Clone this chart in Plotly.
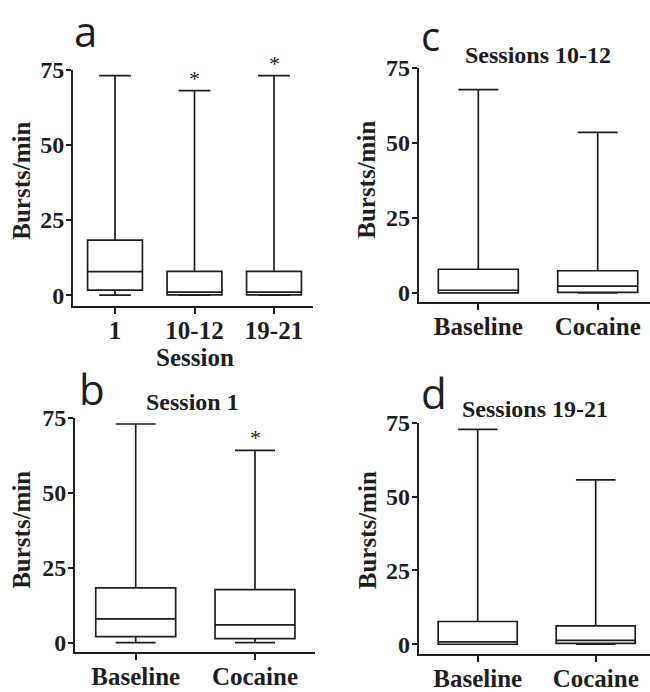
import plotly.graph_objects as go

# ---------------- data ----------------
a_cats = ["1", "10-12", "19-21"]
a_min = [0, 0, 0]
a_q1 = [1.7, 0.1, 0.1]
a_med = [7.8, 1.0, 1.0]
a_q3 = [18.3, 7.9, 7.9]
a_max = [73, 68, 73]
a_star = [False, True, True]

bcd_cats = ["Baseline", "Cocaine"]

b_min = [0, 0]
b_q1 = [2.0, 1.3]
b_med = [7.9, 5.9]
b_q3 = [18.3, 17.7]
b_max = [73, 64.2]
b_star = [False, True]

c_min = [0, 0]
c_q1 = [0, 0.2]
c_med = [0.9, 2.3]
c_q3 = [7.9, 7.4]
c_max = [67.8, 53.5]
c_star = [False, False]

d_min = [0, 0]
d_q1 = [0, 0.3]
d_med = [0.8, 1.3]
d_q3 = [7.7, 6.2]
d_max = [72.8, 55.7]
d_star = [False, False]

y_ticks = [0, 25, 50, 75]
y_title = "Bursts/min"

W, H = 650, 692
INK = "#1e1e1e"
SERIF = "Liberation Serif"
SANS = "Open Sans"

def px_x(p):
    return p / W

def px_y(p):
    return 1 - p / H

# panel geometry (pixels): x0, x1 of axis; y of 75 tick; y of 0; y of x-axis line; category centers
panels = {
    "a": dict(cats=a_cats, mn=a_min, q1=a_q1, md=a_med, q3=a_q3, mx=a_max, star=a_star,
              x0=73, x1=313, y75=58.3, y0=291.0, ybot=301.7, c0=115, dc=79.5,
              bw=0.69, ww=0.58, ax="x", ay="y"),
    "c": dict(cats=bcd_cats, mn=c_min, q1=c_q1, md=c_med, q3=c_q3, mx=c_max, star=c_star,
              x0=418.7, x1=650, y75=56.7, y0=288.7, ybot=298.3, c0=478.3, dc=119.4,
              bw=0.67, ww=0.5, ax="x2", ay="y2"),
    "b": dict(cats=bcd_cats, mn=b_min, q1=b_q1, md=b_med, q3=b_q3, mx=b_max, star=b_star,
              x0=75, x1=315, y75=417.7, y0=649.3, ybot=658.7, c0=135.7, dc=119.3,
              bw=0.67, ww=0.5, ax="x3", ay="y3"),
    "d": dict(cats=bcd_cats, mn=d_min, q1=d_q1, md=d_med, q3=d_q3, mx=d_max, star=d_star,
              x0=418.7, x1=650, y75=422.7, y0=651.0, ybot=660.7, c0=477.7, dc=118.0,
              bw=0.67, ww=0.5, ax="x4", ay="y4"),
}

fig = go.Figure()
layout = {}
annotations = []

for key, p in panels.items():
    fig.add_trace(go.Box(
        x=p["cats"], q1=p["q1"], median=p["md"], q3=p["q3"],
        lowerfence=p["mn"], upperfence=p["mx"],
        boxpoints=False, width=p["bw"], whiskerwidth=p["ww"],
        fillcolor="white", line=dict(color=INK, width=1.7),
        xaxis=p["ax"], yaxis=p["ay"], showlegend=False, hoverinfo="skip",
    ))
    scale = (p["y0"] - p["y75"]) / 75.0
    ymin = -(p["ybot"] - p["y0"]) / scale
    xr0 = (p["x0"] - p["c0"]) / p["dc"]
    xr1 = (p["x1"] - p["c0"]) / p["dc"]
    xname = "xaxis" + p["ax"][1:]
    yname = "yaxis" + p["ay"][1:]
    layout[xname] = dict(
        domain=[px_x(p["x0"]), px_x(p["x1"])], anchor=p["ay"],
        type="category", categoryorder="array", categoryarray=p["cats"],
        range=[xr0, xr1], showline=True, linewidth=2, linecolor=INK,
        ticks="outside", ticklen=6, tickwidth=2, tickcolor=INK,
        showgrid=False, zeroline=False, ticklabelstandoff=-5,
        tickfont=dict(family=SERIF, size=25, color=INK, weight="bold"),
    )
    layout[yname] = dict(
        domain=[px_y(p["ybot"]), px_y(p["y75"])], anchor=p["ax"],
        range=[ymin, 75], tickvals=y_ticks, showline=True, linewidth=2, linecolor=INK,
        ticks="outside", ticklen=5, tickwidth=2, tickcolor=INK,
        showgrid=False, zeroline=False, ticklabelstandoff=-3,
        tickfont=dict(family=SERIF, size=24, color=INK, weight="bold"),
    )
    for cat, top, s in zip(p["cats"], p["mx"], p["star"]):
        if s:
            annotations.append(dict(
                x=cat, y=top, xref=p["ax"], yref=p["ay"], text="*", showarrow=False,
                yanchor="bottom", yshift=-2,
                font=dict(family=SERIF, size=22, color=INK),
            ))

def paper_text(text, x, y, size, family, bold=True, angle=0):
    annotations.append(dict(
        x=px_x(x), y=px_y(y), xref="paper", yref="paper", text=text,
        showarrow=False, xanchor="center", yanchor="middle", textangle=angle,
        font=dict(family=family, size=size, color=INK, weight="bold" if bold else "normal"),
    ))

# panel letters
paper_text("a", 85, 18.5, 42, SANS, bold=False)
paper_text("c", 430, 23.5, 40, SANS, bold=False)
paper_text("b", 92, 387, 42, SANS, bold=False)
paper_text("d", 434, 391, 42, SANS, bold=False)

# panel titles
paper_text("Sessions 10-12", 538, 43, 24, SERIF)
paper_text("Session 1", 192, 401, 24, SERIF)
paper_text("Sessions 19-21", 535, 408, 24, SERIF)

# x title for panel a
paper_text("Session", 195, 355, 25, SERIF)

# y titles
paper_text(y_title, 22, 173, 25, SERIF, angle=-90)
paper_text(y_title, 367, 172, 25, SERIF, angle=-90)
paper_text(y_title, 22, 533, 25, SERIF, angle=-90)
paper_text(y_title, 367.5, 534, 25, SERIF, angle=-90)

fig.update_layout(
    width=W, height=H, margin=dict(l=0, r=0, t=0, b=0),
    paper_bgcolor="white", plot_bgcolor="white",
    annotations=annotations, showlegend=False,
    **layout,
)

fig.write_html(
    "out.html",
    config={"displayModeBar": False},
    post_script="document.body.style.margin='0';document.body.style.overflow='hidden';",
)
